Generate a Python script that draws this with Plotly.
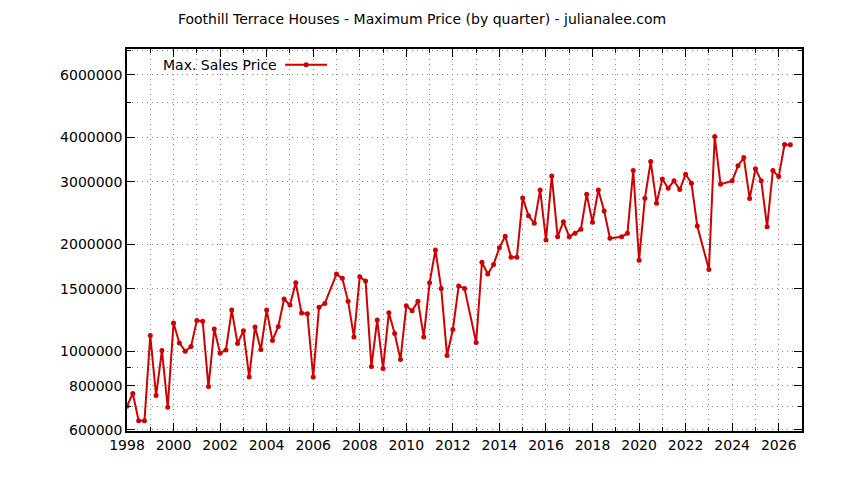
import plotly.graph_objects as go

# Quarter index (0 = 1998 Q1) and maximum sales price
quarter_index = [0, 1, 2, 3, 4, 5, 6, 7, 8, 9, 10, 11, 12, 13, 14, 15, 16, 17, 18, 19,
                 20, 21, 22, 23, 24, 25, 26, 27, 28, 29, 30, 31, 32, 33, 34, 36, 37, 38, 39,
                 40, 41, 42, 43, 44, 45, 46, 47, 48, 49, 50, 51, 52, 53, 54, 55, 56, 57, 58,
                 60, 61, 62, 63, 64, 65, 66, 67, 68, 69, 70, 71, 72, 73, 74, 75, 76, 77, 78, 79,
                 80, 81, 82, 83, 85, 86, 87, 88, 89, 90, 91, 92, 93, 94, 95, 96, 97, 98,
                 100, 101, 102, 104, 105, 106, 107, 108, 109, 110, 111, 112, 113, 114]
max_price = [700000, 760000, 637000, 637000, 1107000, 750000, 1005000, 695000, 1200000, 1055000,
             1000000, 1030000, 1220000, 1215000, 795000, 1154000, 987000, 1008000, 1305000, 1051000,
             1141000, 846000, 1169000, 1011000, 1305000, 1072000, 1174000, 1402000, 1348000, 1558000,
             1280000, 1274000, 846000, 1330000, 1363000, 1649000, 1603000, 1381000, 1097000,
             1620000, 1575000, 905000, 1223000, 894000, 1282000, 1122000, 948000, 1342000, 1299000,
             1383000, 1097000, 1558000, 1927000, 1502000, 972000, 1151000, 1525000, 1502000,
             1058000, 1779000, 1649000, 1755000, 1956000, 2106000, 1837000, 1837000, 2700000,
             2407000, 2290000, 2844000, 2056000, 3114000, 2100000, 2315000, 2100000, 2147000,
             2203000, 2766000, 2305000, 2844000, 2480000, 2078000, 2100000, 2147000, 3225000,
             1802000, 2695000, 3418000, 2609000, 3054000, 2875000, 3016000, 2850000, 3149000,
             2971000, 2251000, 1699000, 4020000, 2951000, 3016000, 3324000, 3508000, 2688000,
             3260000, 3016000, 2241000, 3225000, 3100000, 3818000, 3810000]

x_years = [1998 + q / 4 for q in quarter_index]

y_tick_values = [600000, 800000, 1000000, 1500000, 2000000, 3000000, 4000000, 6000000]
y_tick_labels = [str(v) for v in y_tick_values]
y_minor_values = [700000, 900000, 5000000, 7000000]
x_tick_values = list(range(1998, 2027, 2))
x_tick_labels = [str(v) for v in x_tick_values]

title_text = "Foothill Terrace Houses - Maximum Price (by quarter) - julianalee.com"
legend_text = "Max. Sales Price"

RED = "#cc0000"
GRID = "#8a8a8a"
GRID_DASH = "1px,4px"
FONT = "DejaVu Sans"

fig = go.Figure()
fig.add_trace(go.Scatter(
    x=x_years, y=max_price, mode="lines+markers",
    line=dict(color=RED, width=2),
    marker=dict(color=RED, size=5, symbol="circle"),
    showlegend=False,
))

fig.update_layout(
    width=844, height=480,
    margin=dict(l=119, r=50, t=41, b=57),
    paper_bgcolor="white", plot_bgcolor="white",
    font=dict(family=FONT, size=14, color="black"),
    title=dict(text=title_text, x=414 / 844, xref="container", xanchor="center",
               y=1 - 11 / 480, yref="container", yanchor="middle",
               font=dict(family=FONT, size=14, color="black")),
    xaxis=dict(
        range=[1998, 2027], tickmode="array", tickvals=x_tick_values, ticktext=x_tick_labels,
        ticks="inside", ticklen=8, tickcolor="black", tickwidth=1,
        showline=True, linecolor="black", linewidth=1.5, mirror="ticks",
        showgrid=True, gridcolor=GRID, griddash=GRID_DASH, gridwidth=1,
        zeroline=False,
        minor=dict(dtick=1, tick0=1998, ticks="inside", ticklen=4, tickcolor="black",
                   showgrid=True, gridcolor=GRID, griddash=GRID_DASH, gridwidth=1),
        tickfont=dict(family=FONT, size=14, color="black"),
    ),
    yaxis=dict(
        type="log", range=[5.7753, 6.8506],
        tickmode="array", tickvals=y_tick_values, ticktext=y_tick_labels,
        ticks="inside", ticklen=8, tickcolor="black", tickwidth=1,
        showline=True, linecolor="black", linewidth=1.5, mirror="ticks",
        showgrid=True, gridcolor=GRID, griddash=GRID_DASH, gridwidth=1,
        zeroline=False,
        minor=dict(tickmode="array", tickvals=y_minor_values, ticks="inside", ticklen=4,
                   tickcolor="black", showgrid=True, gridcolor=GRID, griddash=GRID_DASH, gridwidth=1),
        tickfont=dict(family=FONT, size=14, color="black"),
    ),
)

# gnuplot-style key: text on the left, line sample on the right
fig.add_annotation(text=legend_text, xref="paper", yref="paper",
                   x=0.0504, y=0.9588, xanchor="left", yanchor="middle",
                   showarrow=False, font=dict(family=FONT, size=14, color="black"))
fig.add_shape(type="line", xref="paper", yref="paper",
              x0=0.2342, x1=0.2964, y0=0.9588, y1=0.9588,
              line=dict(color=RED, width=2))
fig.add_shape(type="circle", xref="paper", yref="paper", xsizemode="pixel", ysizemode="pixel",
              xanchor=0.2653, yanchor=0.9588, x0=-2.5, x1=2.5, y0=-2.5, y1=2.5,
              fillcolor=RED, line=dict(color=RED, width=0))

fig.write_html("out.html")
